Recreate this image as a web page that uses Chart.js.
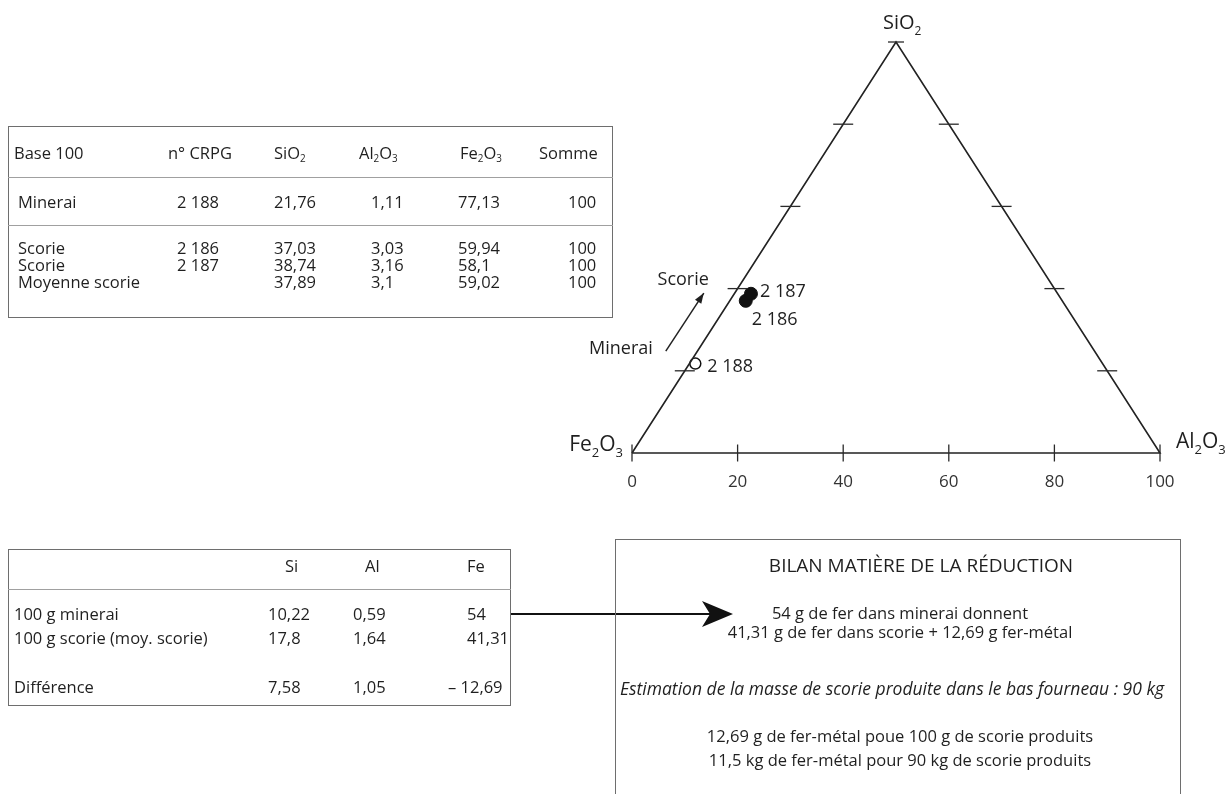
<!DOCTYPE html>
<html lang="fr">
<head>
<meta charset="utf-8">
<title>Diagramme ternaire SiO2 - Al2O3 - Fe2O3</title>
<script src="https://cdn.jsdelivr.net/npm/chart.js@4.4.1/dist/chart.umd.min.js"></script>
<style>
  body { margin: 0; background: #fff; }
  #page { position: relative; width: 1232px; height: 794px; overflow: hidden;
          font-family: "Open Sans", sans-serif; font-size: 16.5px; color: #1f1f1f; }
  #ternary { position: absolute; left: 0; top: 0; }
  .box { position: absolute; border: 1.5px solid #6e6e6e; box-sizing: border-box; }
  .cell { position: absolute; white-space: nowrap; line-height: 18px; transform: translateY(-50%); }
  .rule { position: absolute; height: 0; border-top: 1.5px solid #a0a0a0; }
  sub { font-size: 0.6em; vertical-align: -0.3em; line-height: 0; }
  .line { position: absolute; white-space: nowrap; text-align: center; transform: translate(-50%, -50%); }
  #arrow { position: absolute; left: 0; top: 0; }
</style>
</head>
<body>
<div id="page">
  <canvas id="ternary" width="1232" height="794"></canvas>
  <div id="analyse" class="box" style="left:8px; top:126px; width:605px; height:192px;"></div>
  <div id="bilanTable" class="box" style="left:8px; top:549px; width:503px; height:157px;"></div>
  <svg id="arrow" width="1232" height="794">
    <line x1="511" y1="614" x2="712" y2="614" stroke="#111" stroke-width="2"/>
    <path d="M733 614 L702 601 L710 614 L702 627 Z" fill="#111"/>
  </svg>
  <div id="bilan" class="box" style="left:615px; top:539px; width:566px; height:280px;"></div>
</div>

<script>
// Analyses (base 100)
const headers = ['Base 100', 'n° CRPG', 'SiO<sub>2</sub>', 'Al<sub>2</sub>O<sub>3</sub>', 'Fe<sub>2</sub>O<sub>3</sub>', 'Somme'];
const sampleNames = ['Minerai', 'Scorie', 'Scorie', 'Moyenne scorie'];
const crpgNumbers = ['2 188', '2 186', '2 187', ''];
const sio2 = [21.76, 37.03, 38.74, 37.89];
const al2o3 = [1.11, 3.03, 3.16, 3.1];
const fe2o3 = [77.13, 59.94, 58.1, 59.02];
const somme = [100, 100, 100, 100];

// Bilan Si / Al / Fe
const elements = ['Si', 'Al', 'Fe'];
const balanceRows = ['100 g minerai', '100 g scorie (moy. scorie)', 'Différence'];
const siValues = [10.22, 17.8, 7.58];
const alValues = [0.59, 1.64, 1.05];
const feValues = [54, 41.31, -12.69];

// ternary axis
const axisTicks = [0, 20, 40, 60, 80, 100];
const edgeTicks = [20, 40, 60, 80];
const vertexLabels = ['Fe2O3', 'Al2O3', 'SiO2'];

const bilanTitle = 'BILAN MATIÈRE DE LA RÉDUCTION';
const bilanLines = [
    '54 g de fer dans minerai donnent',
    '41,31 g de fer dans scorie + 12,69 g fer-métal',
    'Estimation de la masse de scorie produite dans le bas fourneau : 90 kg',
    '12,69 g de fer-métal poue 100 g de scorie produits',
    '11,5 kg de fer-métal pour 90 kg de scorie produits'
];

function fr(v) {
    return (v < 0 ? '– ' : '') + String(Math.abs(v)).replace('.', ',');
}

function cell(html, x, y, extra) {
    const d = document.createElement('div');
    d.className = 'cell';
    d.style.left = x + 'px';
    d.style.top = y + 'px';
    if (extra) d.style.cssText += extra;
    d.innerHTML = html;
    document.getElementById('page').appendChild(d);
}

function rule(x, y, w) {
    const d = document.createElement('div');
    d.className = 'rule';
    d.style.left = x + 'px';
    d.style.top = y + 'px';
    d.style.width = w + 'px';
    document.getElementById('page').appendChild(d);
}

// top table
const headX = [14, 168, 274, 359, 460, 539];
const valX = [18, 177, 274, 371, 458, 568];
const rowY = [202, 248, 265, 282];
headers.forEach((h, i) => cell(h, headX[i], 153));
rule(8, 177, 605);
rule(8, 225, 605);
sampleNames.forEach((name, r) => {
    cell(name, valX[0], rowY[r]);
    cell(crpgNumbers[r], valX[1], rowY[r]);
    cell(fr(sio2[r]), valX[2], rowY[r]);
    cell(fr(al2o3[r]), valX[3], rowY[r]);
    cell(fr(fe2o3[r]), valX[4], rowY[r]);
    cell(fr(somme[r]), valX[5], rowY[r]);
});

// bottom table
const elemX = [285, 365, 467];
const colX = [268, 353, 467];
const balY = [614, 638, 687];
elements.forEach((e, i) => cell(e, elemX[i], 566));
rule(8, 589, 503);
balanceRows.forEach((name, r) => {
    cell(name, 14, balY[r]);
    cell(fr(siValues[r]), colX[0], balY[r]);
    cell(fr(alValues[r]), colX[1], balY[r]);
    const fv = feValues[r];
    cell(fr(fv), fv < 0 ? colX[2] - 19 : colX[2], balY[r]);
});

// bilan box text
function line(text, x, y, extra) {
    const d = document.createElement('div');
    d.className = 'line';
    d.style.left = x + 'px';
    d.style.top = y + 'px';
    if (extra) d.style.cssText += extra;
    d.textContent = text;
    document.getElementById('page').appendChild(d);
}
line(bilanTitle, 921, 565, 'font-size:19px;');
const bilanY = [612, 631, 688, 735, 759];
bilanLines.forEach((t, i) => line(t, i === 2 ? 892 : 900, bilanY[i], i === 2 ? 'font-style:italic; font-size:17.5px;' : ''));

// ternary position: x = Al2O3 + SiO2/2, y = SiO2 (normalised to 100)
function tern(si, al, fe) {
    const t = si + al + fe;
    return { x: (al + si / 2) * 100 / t, y: si * 100 / t };
}

function drawChem(ctx, text, x, y, size, align) {
    const parts = text.match(/[A-Za-z]+|\d+/g);
    const big = size + 'px "Open Sans", sans-serif';
    const small = Math.round(size * 0.6) + 'px "Open Sans", sans-serif';
    let w = 0;
    parts.forEach(p => { ctx.font = /\d/.test(p) ? small : big; w += ctx.measureText(p).width; });
    let cx = align === 'right' ? x - w : align === 'center' ? x - w / 2 : x;
    ctx.textAlign = 'left';
    ctx.textBaseline = 'alphabetic';
    parts.forEach(p => {
        const sub = /\d/.test(p);
        ctx.font = sub ? small : big;
        ctx.fillText(p, cx, sub ? y + size * 0.3 : y);
        cx += ctx.measureText(p).width;
    });
}

const labelPlugin = {
    id: 'ternaryLabels',
    afterDatasetsDraw(chart) {
        const ctx = chart.ctx;
        const xs = chart.scales.x, ys = chart.scales.y;
        const px = (x, y) => ({ x: xs.getPixelForValue(x), y: ys.getPixelForValue(y) });
        ctx.save();
        ctx.fillStyle = '#1f1f1f';

        // vertex labels
        const fe = px(0, 0), al = px(100, 0), si = px(50, 100);
        drawChem(ctx, vertexLabels[0], fe.x - 9, fe.y - 2, 21, 'right');
        drawChem(ctx, vertexLabels[1], al.x + 16, al.y - 5, 21, 'left');
        drawChem(ctx, vertexLabels[2], si.x - 13, si.y - 13, 20, 'left');

        // sample labels
        ctx.font = '18px "Open Sans", sans-serif';
        ctx.textAlign = 'left';
        ctx.textBaseline = 'middle';
        const m = tern(sio2[0], al2o3[0], fe2o3[0]);
        const s1 = tern(sio2[1], al2o3[1], fe2o3[1]);
        const s2 = tern(sio2[2], al2o3[2], fe2o3[2]);
        let p = px(m.x, m.y);
        ctx.fillText(crpgNumbers[0], p.x + 12, p.y + 3);
        p = px(s2.x, s2.y);
        ctx.fillText(crpgNumbers[2], p.x + 9, p.y - 2);
        p = px(s1.x, s1.y);
        ctx.fillText(crpgNumbers[1], p.x + 6, p.y + 19);

        // Minerai -> Scorie arrow
        const tail = px(6.4, 24.8), tip = px(13.6, 38.9);
        ctx.strokeStyle = '#222';
        ctx.lineWidth = 1.5;
        ctx.beginPath();
        ctx.moveTo(tail.x, tail.y);
        ctx.lineTo(tip.x, tip.y);
        ctx.stroke();
        const a = Math.atan2(tip.y - tail.y, tip.x - tail.x);
        ctx.beginPath();
        ctx.moveTo(tip.x, tip.y);
        ctx.lineTo(tip.x - 11 * Math.cos(a - 0.35), tip.y - 11 * Math.sin(a - 0.35));
        ctx.lineTo(tip.x - 11 * Math.cos(a + 0.35), tip.y - 11 * Math.sin(a + 0.35));
        ctx.closePath();
        ctx.fill();

        ctx.textAlign = 'center';
        p = px(9.7, 42.1);
        ctx.fillText('Scorie', p.x, p.y);
        p = px(-2.1, 25.4);
        ctx.fillText('Minerai', p.x, p.y);
        ctx.restore();
    }
};

const ctx = document.getElementById('ternary').getContext('2d');
const ternaryChart = new Chart(ctx, {
    type: 'scatter',
    data: {
        datasets: [{
            label: 'ticks base',
            data: axisTicks.map(v => ({ x: v, y: 0 })),
            pointStyle: 'line',
            rotation: 90,
            pointRadius: 8.5,
            borderColor: '#2a2a2a',
            borderWidth: 1.3,
            clip: false
        }, {
            label: 'ticks côtés',
            data: edgeTicks.map(s => ({ x: s / 2, y: s }))
                .concat(edgeTicks.map(s => ({ x: 100 - s / 2, y: s })))
                .concat([{ x: 50, y: 100 }]),
            pointStyle: 'line',
            rotation: 0,
            pointRadius: c => (c.dataIndex === 8 ? 8 : 10),
            borderColor: '#2a2a2a',
            borderWidth: 1.3,
            clip: false
        }, {
            label: 'triangle',
            data: [{ x: 0, y: 0 }, { x: 100, y: 0 }, { x: 50, y: 100 }, { x: 0, y: 0 }],
            showLine: true,
            pointRadius: 0,
            borderColor: '#222222',
            borderWidth: 1.6,
            clip: false
        }, {
            label: 'Minerai',
            data: [tern(sio2[0], al2o3[0], fe2o3[0])],
            pointRadius: 5.5,
            backgroundColor: '#ffffff',
            borderColor: '#111111',
            borderWidth: 1.5
        }, {
            label: 'Scorie',
            data: [1, 2].map(i => tern(sio2[i], al2o3[i], fe2o3[i])),
            pointRadius: 6.5,
            backgroundColor: '#111111',
            borderColor: '#111111',
            borderWidth: 1
        }]
    },
    options: {
        responsive: false,
        animation: false,
        events: [],
        layout: { padding: { left: 632, right: 72, top: 42, bottom: 300 } },
        scales: {
            x: {
                type: 'linear',
                min: 0,
                max: 100,
                afterFit: s => { s.height = 41; },
                grid: { display: false, drawTicks: false },
                border: { display: false },
                ticks: {
                    stepSize: 20,
                    padding: 19,
                    color: '#333333',
                    font: { family: '"Open Sans", sans-serif', size: 17 }
                }
            },
            y: { min: 0, max: 100, display: false }
        },
        plugins: {
            legend: { display: false },
            tooltip: { enabled: false }
        }
    },
    plugins: [labelPlugin]
});
</script>
</body>
</html>
